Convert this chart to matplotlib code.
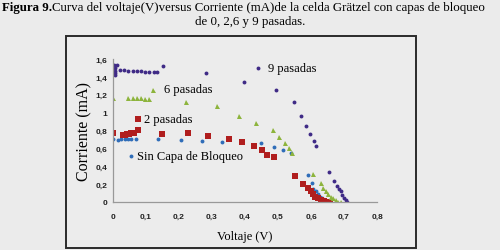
import matplotlib
matplotlib.use("Agg")
import matplotlib.pyplot as plt
from matplotlib.patches import Rectangle
from matplotlib import font_manager

# Data (V, mA)
v9 = [0.003, 0.005, 0.005, 0.005, 0.005, 0.012, 0.021, 0.033, 0.045, 0.06, 0.073, 0.085, 0.097, 0.11, 0.124, 0.133,
      0.15, 0.281, 0.396, 0.44, 0.494, 0.549, 0.571, 0.584, 0.597, 0.608, 0.615, 0.654, 0.67, 0.68, 0.685, 0.69,
      0.695, 0.70, 0.705, 0.71]
i9 = [1.53, 1.50, 1.47, 1.44, 1.42, 1.53, 1.48, 1.48, 1.47, 1.47, 1.465, 1.465, 1.46, 1.46, 1.46, 1.455,
      1.52, 1.44, 1.345, 1.50, 1.25, 1.115, 0.965, 0.85, 0.76, 0.686, 0.63, 0.335, 0.23, 0.18, 0.15, 0.12,
      0.08, 0.05, 0.02, 0.0]

v6 = [0.001, 0.046, 0.06, 0.072, 0.085, 0.098, 0.11, 0.12, 0.221, 0.316, 0.382, 0.434, 0.484, 0.504, 0.521,
      0.534, 0.542, 0.607, 0.629, 0.637, 0.645, 0.652, 0.66, 0.667, 0.675, 0.682, 0.69]
i6 = [1.16, 1.16, 1.16, 1.16, 1.16, 1.155, 1.15, 1.256, 1.12, 1.07, 0.965, 0.88, 0.81, 0.727, 0.663,
      0.604, 0.55, 0.31, 0.21, 0.155, 0.12, 0.09, 0.06, 0.04, 0.02, 0.005, 0.0]

v2 = [0.0, 0.029, 0.035, 0.041, 0.047, 0.054, 0.06, 0.064, 0.077, 0.149, 0.227, 0.289, 0.35, 0.392, 0.427,
      0.45, 0.466, 0.489, 0.553, 0.575, 0.592, 0.60, 0.605, 0.612, 0.62, 0.63, 0.64, 0.65, 0.658]
i2 = [0.77, 0.745, 0.75, 0.76, 0.76, 0.768, 0.77, 0.775, 0.81, 0.764, 0.77, 0.74, 0.71, 0.667, 0.63,
      0.58, 0.53, 0.505, 0.29, 0.20, 0.153, 0.12, 0.09, 0.06, 0.04, 0.02, 0.01, 0.005, 0.0]

v0 = [0.0, 0.015, 0.025, 0.035, 0.045, 0.055, 0.07, 0.137, 0.205, 0.269, 0.331, 0.39, 0.448, 0.487, 0.514,
      0.539, 0.59, 0.602, 0.607, 0.615, 0.62, 0.627, 0.633, 0.64, 0.645, 0.65]
i0 = [0.71, 0.69, 0.70, 0.70, 0.705, 0.705, 0.705, 0.705, 0.697, 0.682, 0.667, 0.667, 0.656, 0.62, 0.58,
      0.55, 0.30, 0.21, 0.15, 0.12, 0.09, 0.06, 0.04, 0.02, 0.01, 0.0]

xticks = [0, 0.1, 0.2, 0.3, 0.4, 0.5, 0.6, 0.7, 0.8]
xtick_labels = ["0", "0,1", "0,2", "0,3", "0,4", "0,5", "0,6", "0,7", "0,8"]
yticks = [0, 0.2, 0.4, 0.6, 0.8, 1.0, 1.2, 1.4, 1.6]
ytick_labels = ["0", "0,2", "0,4", "0,6", "0,8", "1", "1,2", "1,4", "1,6"]

BG = "#ebebeb"
C9 = "#3f2a86"
C6 = "#8db43c"
C2 = "#b01e1e"
C0 = "#2f6db8"
serif = "Liberation Serif"
names = {f.name for f in font_manager.fontManager.ttflist}
tickfont = "Liberation Sans Narrow" if "Liberation Sans Narrow" in names else "Liberation Sans"

fig = plt.figure(figsize=(5.0, 2.51), dpi=100, facecolor=BG)

# chart border box
box = Rectangle((66 / 500, 1 - 249 / 251), (416 - 66) / 500, (249 - 37) / 251,
                transform=fig.transFigure, facecolor="#ececec", edgecolor="#2a2a2a",
                linewidth=1.4, zorder=-5)
fig.patches.append(box)

ax = fig.add_axes([113 / 500, 1 - 203 / 251, (377 - 113) / 500, (203 - 60) / 251])
ax.set_zorder(2)
ax.set_facecolor("none")

ax.plot(v0, i0, linestyle="none", marker="o", ms=2.8, color=C0, mew=0)
ax.plot(v2, i2, linestyle="none", marker="s", ms=4.4, color=C2, mew=0)
ax.plot(v6, i6, linestyle="none", marker="^", ms=3.6, color=C6, mew=0)
ax.plot(v9, i9, linestyle="none", marker="o", ms=2.8, color=C9, mew=0)

ax.set_xlim(0, 0.8)
ax.set_ylim(0, 1.6)
ax.set_xticks(xticks)
ax.set_xticklabels(xtick_labels)
ax.set_yticks(yticks)
ax.set_yticklabels(ytick_labels)
ax.tick_params(axis="both", length=0, labelsize=6, colors="#222222")
ax.tick_params(axis="x", pad=8)
ax.tick_params(axis="y", pad=4.3)
for lab in ax.get_xticklabels() + ax.get_yticklabels():
    lab.set_fontweight("bold")
    lab.set_fontfamily(tickfont)
for s in ["top", "right"]:
    ax.spines[s].set_visible(False)
for s in ["left", "bottom"]:
    ax.spines[s].set_color("#999999")
    ax.spines[s].set_linewidth(0.9)

ax.set_xlabel("Voltaje (V)", fontfamily=serif, fontsize=9, labelpad=7)
ax.set_ylabel("Corriente (mA)", fontfamily=serif, fontsize=11.5, labelpad=2)

# annotations
ax.text(0.47, 1.495, "9 pasadas", fontfamily=serif, fontsize=9, va="center", ha="left")
ax.text(0.155, 1.265, "6 pasadas", fontfamily=serif, fontsize=9, va="center", ha="left")
ax.plot([0.075], [0.925], linestyle="none", marker="s", ms=4.4, color=C2, mew=0)
ax.text(0.093, 0.925, "2 pasadas", fontfamily=serif, fontsize=9, va="center", ha="left")
ax.plot([0.054], [0.52], linestyle="none", marker="o", ms=2.8, color=C0, mew=0)
ax.text(0.073, 0.52, "Sin Capa de Bloqueo", fontfamily=serif, fontsize=9, va="center", ha="left")

# title
t1 = fig.text(0.004, 1 - 8 / 251, "Figura 9.", fontfamily=serif, fontweight="bold", fontsize=9.3,
              va="center", ha="left")
fig.canvas.draw()
bb = t1.get_window_extent()
x_after = bb.x1 / fig.bbox.width
fig.text(x_after, 1 - 8 / 251,
         "Curva del voltaje(V)versus Corriente (mA)de la celda Grätzel con capas de bloqueo",
         fontfamily=serif, fontsize=9.3, va="center", ha="left")
fig.text(0.5, 1 - 22 / 251, "de 0, 2,6 y 9 pasadas.", fontfamily=serif, fontsize=9.3,
         va="center", ha="center")

fig.savefig("out.png", dpi=100, facecolor=BG)
